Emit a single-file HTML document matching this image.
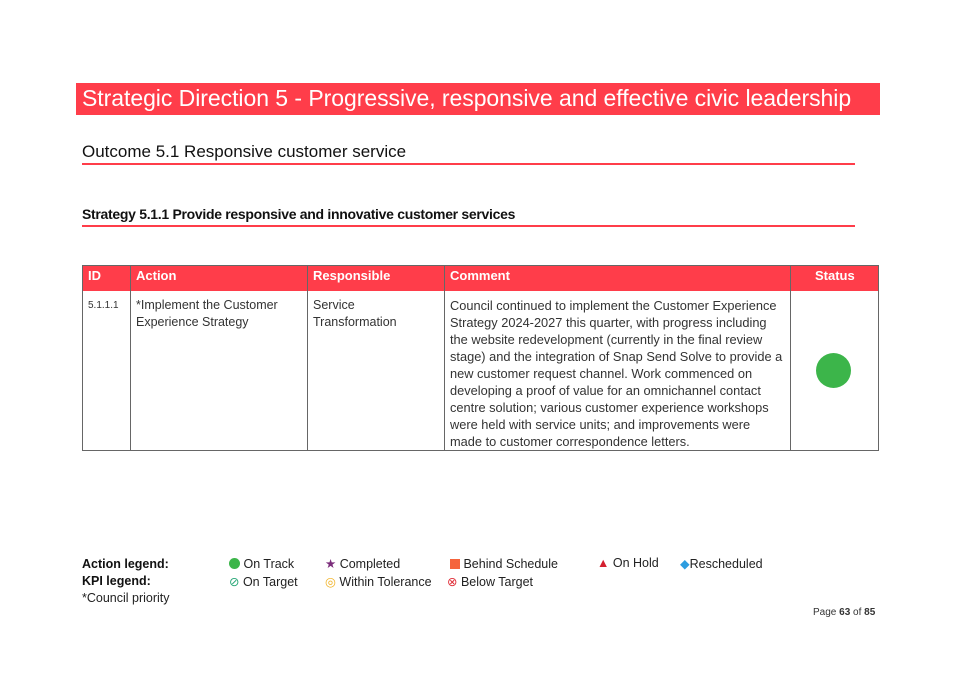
<!DOCTYPE html>
<html><head><meta charset="utf-8"><style>
body{margin:0;width:955px;height:675px;background:#fff;font-family:"Liberation Sans",sans-serif;position:relative;overflow:hidden;color:#222}
.a{position:absolute;white-space:nowrap}
.hdr{position:absolute;background:#ff3d4a;color:#fff}
.line{position:absolute;height:2px;background:#ff3d4a}
.cell{position:absolute;font-size:12.5px;line-height:17px;color:#333}
.vl{position:absolute;width:1px;background:#666;top:265px;height:185px}
</style></head><body>
<div class="hdr" style="left:76px;top:83px;width:804px;height:32px"></div>
<div class="a" style="left:82px;top:85px;font-size:23px;color:#fff;letter-spacing:-0.05px">Strategic Direction 5 - Progressive, responsive and effective civic leadership</div>
<div class="a" style="left:82px;top:142px;font-size:17px;color:#111">Outcome 5.1 Responsive customer service</div>
<div class="line" style="left:82px;top:163px;width:773px"></div>
<div class="a" style="left:82px;top:206px;font-size:14px;color:#111;font-weight:bold;letter-spacing:-0.3px">Strategy 5.1.1 Provide responsive and innovative customer services</div>
<div class="line" style="left:82px;top:225px;width:773px"></div>

<div class="hdr" style="left:82px;top:265px;width:796px;height:26px"></div>
<div style="position:absolute;left:82px;top:265px;width:795px;height:184px;border:1px solid #666"></div>
<div class="vl" style="left:130px"></div><div class="vl" style="left:307px"></div><div class="vl" style="left:444px"></div><div class="vl" style="left:790px"></div>
<div class="a" style="left:88px;top:268px;font-size:13px;color:#fff;font-weight:bold">ID</div>
<div class="a" style="left:136px;top:268px;font-size:13px;color:#fff;font-weight:bold">Action</div>
<div class="a" style="left:313px;top:268px;font-size:13px;color:#fff;font-weight:bold">Responsible</div>
<div class="a" style="left:450px;top:268px;font-size:13px;color:#fff;font-weight:bold">Comment</div>
<div class="a" style="left:815px;top:268px;font-size:13px;color:#fff;font-weight:bold">Status</div>
<div class="cell" style="left:88px;top:297px;font-size:10px">5.1.1.1</div>
<div class="cell" style="left:136px;top:297px">*Implement the Customer<br>Experience Strategy</div>
<div class="cell" style="left:313px;top:297px">Service<br>Transformation</div>
<div class="cell" style="left:450px;top:297px;width:340px;white-space:nowrap;font-size:12.8px">Council continued to implement the Customer Experience<br>Strategy 2024-2027 this quarter, with progress including<br>the website redevelopment (currently in the final review<br>stage) and the integration of Snap Send Solve to provide a<br>new customer request channel. Work commenced on<br>developing a proof of value for an omnichannel contact<br>centre solution; various customer experience workshops<br>were held with service units; and improvements were<br>made to customer correspondence letters.</div>
<div style="position:absolute;left:816px;top:353px;width:35px;height:35px;border-radius:50%;background:#3cb54a"></div>

<div class="a" style="left:82px;top:557px;font-size:12.5px;font-weight:bold;color:#111">Action legend:</div>
<div class="a" style="left:82px;top:574px;font-size:12.5px;font-weight:bold;color:#111">KPI legend:</div>
<div class="a" style="left:82px;top:591px;font-size:12.5px;color:#222">*Council priority</div>
<div class="a" style="left:229px;top:557px;font-size:12.5px"><span style="display:inline-block;width:11px;height:11px;border-radius:50%;background:#3cb54a;vertical-align:-1px"></span> On Track</div>
<div class="a" style="left:325px;top:556px;font-size:12.5px"><span style="color:#7b2d7b">★</span> Completed</div>
<div class="a" style="left:450px;top:557px;font-size:12.5px"><span style="display:inline-block;width:10px;height:10px;background:#f5643c;vertical-align:-1px"></span> Behind Schedule</div>
<div class="a" style="left:597px;top:556px;font-size:12.5px"><span style="color:#d42030">▲</span> On Hold</div>
<div class="a" style="left:680px;top:556px;font-size:12.5px"><span style="color:#2c9de0">◆</span>Rescheduled</div>
<div class="a" style="left:229px;top:574px;font-size:12.5px"><span style="color:#2aa878">⊘</span> On Target</div>
<div class="a" style="left:325px;top:574px;font-size:12.5px"><span style="color:#f0b020">◎</span> Within Tolerance</div>
<div class="a" style="left:447px;top:574px;font-size:12.5px"><span style="color:#e0303a">⊗</span> Below Target</div>
<div class="a" style="left:813px;top:607px;font-size:10px;color:#333">Page <b>63</b> of <b>85</b></div>
</body></html>
